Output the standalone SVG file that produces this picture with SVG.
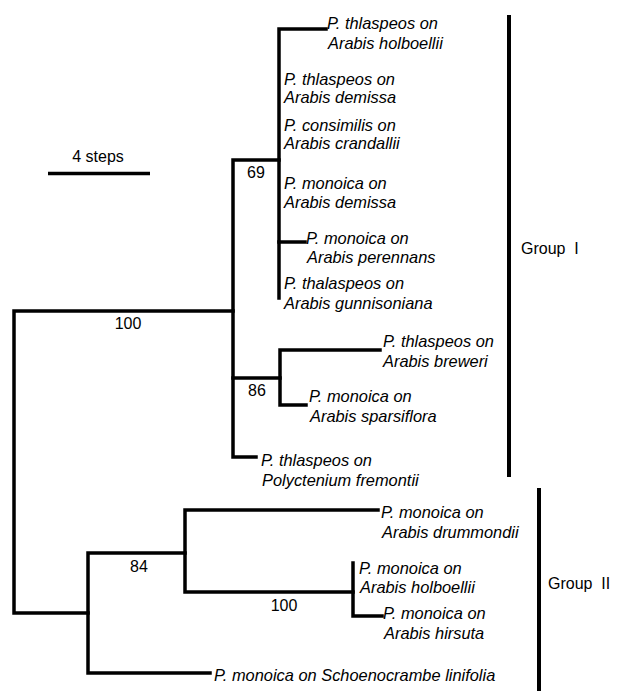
<svg xmlns="http://www.w3.org/2000/svg" width="625" height="691" viewBox="0 0 625 691">
<style>
.br{fill:none;stroke:#000;stroke-width:3.5;stroke-linecap:square;stroke-linejoin:miter}
.bar{fill:none;stroke:#000;stroke-width:4}
.lb{font-family:"Liberation Sans",Arial,sans-serif;font-style:italic;font-size:16.4px;fill:#000}
.nm{font-family:"Liberation Sans",Arial,sans-serif;font-size:16px;fill:#000}
.gp{font-family:"Liberation Sans",Arial,sans-serif;font-size:16px;fill:#000;white-space:pre}
</style>
<rect width="625" height="691" fill="#fff"/>
<g id="connectors">
<path class="br" d="M233,311 H14 V613 H88"/>
<path class="br" d="M279,160 H233 V457 H256"/>
<path class="br" d="M326,29 H279 V298"/>
<path class="br" d="M279,242 H305"/>
<path class="br" d="M233,378 H280"/>
<path class="br" d="M380,350 H280 V405 H306"/>
<path class="br" d="M185,553 H88 V673 H210"/>
<path class="br" d="M378,510 H185 V592 H353"/>
<path class="br" d="M353,563 V616 H382"/>
</g>
<g id="scale">
<line x1="48" y1="173.5" x2="150" y2="173.5" stroke="#000" stroke-width="3.5"/>
<text class="nm" x="98" y="162" text-anchor="middle">4 steps</text>
</g>
<g id="support-labels">
<text class="nm" x="256" y="178" text-anchor="middle">69</text>
<text class="nm" x="128" y="329" text-anchor="middle">100</text>
<text class="nm" x="257" y="396" text-anchor="middle">86</text>
<text class="nm" x="139" y="572" text-anchor="middle">84</text>
<text class="nm" x="284" y="611" text-anchor="middle">100</text>
</g>
<g id="leaf-thlaspeos-holboellii"><text class="lb" x="327" y="29">P. thlaspeos on</text><text class="lb" x="328" y="49">Arabis holboellii</text></g>
<g id="leaf-thlaspeos-demissa"><text class="lb" x="284" y="85">P. thlaspeos on</text><text class="lb" x="284" y="103">Arabis demissa</text></g>
<g id="leaf-consimilis-crandallii"><text class="lb" x="284" y="131">P. consimilis on</text><text class="lb" x="284" y="149">Arabis crandallii</text></g>
<g id="leaf-monoica-demissa"><text class="lb" x="284" y="189">P. monoica on</text><text class="lb" x="284" y="208">Arabis demissa</text></g>
<g id="leaf-monoica-perennans"><text class="lb" x="306" y="244">P. monoica on</text><text class="lb" x="307" y="263">Arabis perennans</text></g>
<g id="leaf-thalaspeos-gunnisoniana"><text class="lb" x="284" y="289">P. thalaspeos on</text><text class="lb" x="284" y="309">Arabis gunnisoniana</text></g>
<g id="leaf-thlaspeos-breweri"><text class="lb" x="383" y="347">P. thlaspeos on</text><text class="lb" x="383" y="367">Arabis breweri</text></g>
<g id="leaf-monoica-sparsiflora"><text class="lb" x="309" y="402">P. monoica on</text><text class="lb" x="310" y="422">Arabis sparsiflora</text></g>
<g id="leaf-thlaspeos-polyctenium"><text class="lb" x="261" y="466">P. thlaspeos on</text><text class="lb" x="262" y="486">Polyctenium fremontii</text></g>
<g id="leaf-monoica-drummondii"><text class="lb" x="381" y="518">P. monoica on</text><text class="lb" x="382" y="538">Arabis drummondii</text></g>
<g id="leaf-monoica-holboellii"><text class="lb" x="359" y="574">P. monoica on</text><text class="lb" x="360" y="593">Arabis holboellii</text></g>
<g id="leaf-monoica-hirsuta"><text class="lb" x="383" y="619">P. monoica on</text><text class="lb" x="384" y="639">Arabis hirsuta</text></g>
<g id="leaf-monoica-schoenocrambe"><text class="lb" x="214" y="681">P. monoica on Schoenocrambe linifolia</text></g>
<g id="group-1">
<line class="bar" x1="509" y1="15" x2="509" y2="477"/>
<text class="gp" x="521" y="254">Group  I</text>
</g>
<g id="group-2">
<line class="bar" x1="539" y1="488" x2="539" y2="691"/>
<text class="gp" x="548" y="589">Group  II</text>
</g>
</svg>
